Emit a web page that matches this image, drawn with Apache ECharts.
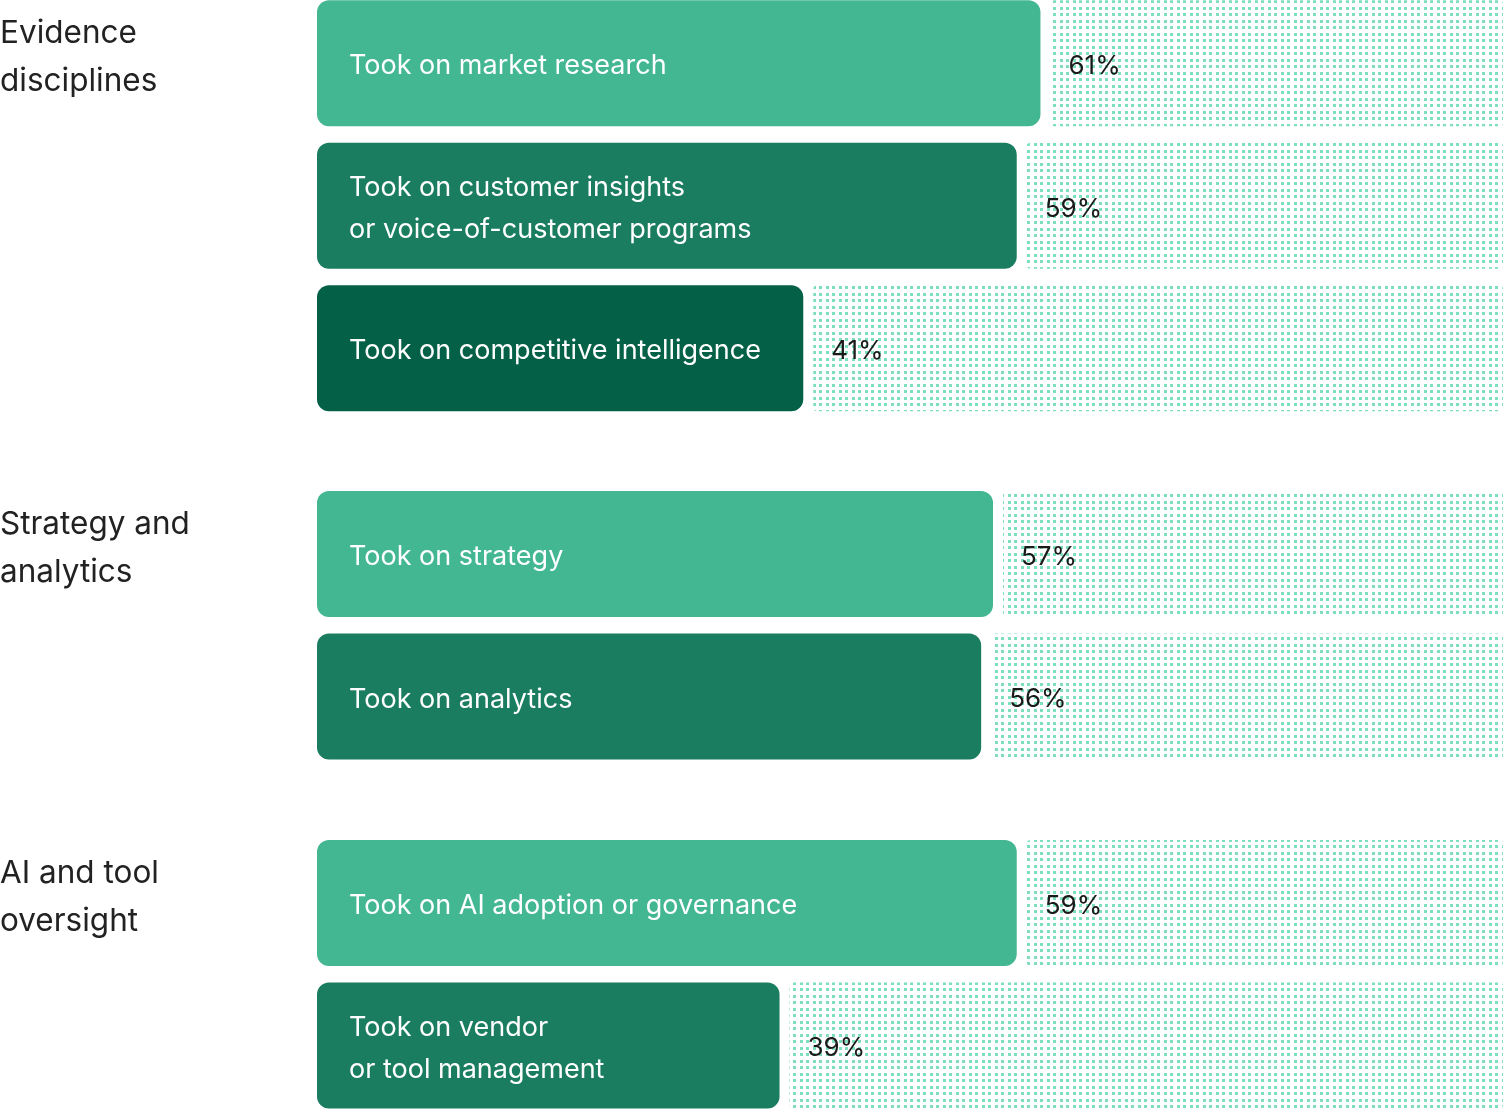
<!DOCTYPE html>
<html>
<head>
<meta charset="utf-8">
<script src="https://cdn.jsdelivr.net/npm/echarts@6/dist/echarts.min.js"></script>
<style>
  html, body { margin: 0; padding: 0; background: #fff; }
  #chart { width: 1505px; height: 1109px; }
</style>
</head>
<body>
<div id="chart"></div>
<script>
// group titles (left column)
var groupNames = ['Evidence\ndisciplines', 'Strategy and\nanalytics', 'AI and tool\noversight'];

// bars per group
var evidenceLabels = ['Took on market research', 'Took on customer insights\nor voice-of-customer programs', 'Took on competitive intelligence'];
var evidenceValues = [61, 59, 41];

var strategyLabels = ['Took on strategy', 'Took on analytics'];
var strategyValues = [57, 56];

var aiLabels = ['Took on AI adoption or governance', 'Took on vendor\nor tool management'];
var aiValues = [59, 39];

var barColors = ['#43b692', '#1b7d5f', '#046046'];
var fontFamily = 'Inter, Roboto, sans-serif';

// dotted fill for the remaining share
function makeDots() {
  var c = document.createElement('canvas');
  c.width = 13; c.height = 13;
  var ctx = c.getContext('2d');
  ctx.fillStyle = '#7ddfbd';
  [[0, 0], [7, 0], [0, 7], [7, 7]].forEach(function (p) {
    ctx.fillRect(p[0], p[1], 3, 3);
  });
  return c;
}
var dots = makeDots();

var groups = [
  {labels: evidenceLabels, values: evidenceValues, top: -8},
  {labels: strategyLabels, values: strategyValues, top: 482.75},
  {labels: aiLabels, values: aiValues, top: 831.75}
];

var BAR_H = 126;
var grids = [], xAxes = [], yAxes = [], series = [], titles = [];

groups.forEach(function (g, i) {
  grids.push({left: 317, right: 2, top: g.top, height: g.values.length * 142.5, outerBoundsMode: 'none'});
  xAxes.push({type: 'value', gridIndex: i, min: 0, max: 100, show: false});
  yAxes.push({type: 'category', gridIndex: i, inverse: true, data: g.labels, show: false});

  titles.push({
    text: groupNames[i], left: 0, top: g.top + 8 + 10,
    padding: 0,
    textStyle: {fontFamily: fontFamily, fontSize: 31.5, fontWeight: 'normal', color: '#222', lineHeight: 48}
  });

  series.push({
    type: 'bar', xAxisIndex: i, yAxisIndex: i,
    barWidth: BAR_H,
    data: g.values.map(function (v, k) {
      return {value: v, itemStyle: {color: barColors[k]}};
    }),
    itemStyle: {borderRadius: 12},
    label: {
      show: true, position: 'insideLeft', distance: 32, offset: [0, 3],
      formatter: function (p) { return g.labels[p.dataIndex]; },
      color: '#fff', fontFamily: fontFamily, fontSize: 27, lineHeight: 42
    },
    silent: true, animation: false
  });

  series.push({
    type: 'custom', xAxisIndex: i, yAxisIndex: i,
    data: g.values.map(function (v, k) { return [v, k]; }),
    renderItem: function (params, api) {
      var v = api.value(0), k = api.value(1);
      var start = api.coord([v, k]);
      var end = api.coord([100, k]);
      return {
        type: 'group',
        children: [{
          type: 'rect',
          shape: {x: start[0] + 10, y: start[1] - BAR_H / 2, width: end[0] - start[0] - 10, height: BAR_H, r: 4},
          style: {fill: {image: dots, repeat: 'repeat'}}
        }, {
          type: 'text',
          x: start[0] + 28, y: start[1] + 3,
          style: {
            text: v + '%', fill: '#1a1a1a', fontFamily: fontFamily, fontSize: 26,
            verticalAlign: 'middle', align: 'left'
          }
        }]
      };
    },
    silent: true, animation: false
  });
});

var chart = echarts.init(document.getElementById('chart'));
chart.setOption({
  animation: false,
  title: titles,
  grid: grids,
  xAxis: xAxes,
  yAxis: yAxes,
  series: series
});
</script>
</body>
</html>
